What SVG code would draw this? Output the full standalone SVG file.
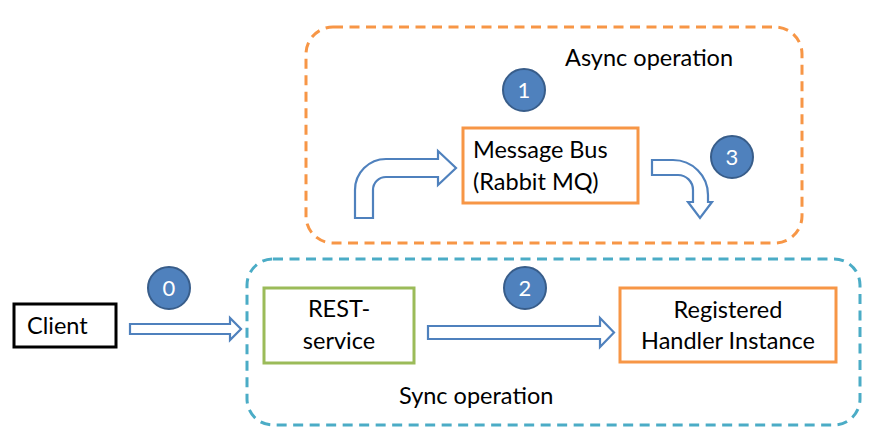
<svg xmlns="http://www.w3.org/2000/svg" width="891" height="443" viewBox="0 0 891 443">
<style>
text{font-family:Lato,"Open Sans","Liberation Sans",sans-serif;font-size:23.5px;fill:#000}
.c text{fill:#fff;font-size:22px;text-anchor:middle}
.num{fill:#4F81BD;stroke:#385D8A;stroke-width:2}
.arr{fill:#fff;stroke:#4F81BD;stroke-width:2.2;stroke-linejoin:miter}
.box{fill:#fff;stroke-width:3}
.mid{text-anchor:middle}
.grp{fill:none;stroke-width:3;stroke-dasharray:10,6.5}
</style>
<rect width="891" height="443" fill="#fff"/>
<g id="async-group">
<rect class="grp" x="306" y="27" width="496" height="216" rx="27" stroke="#F79646"/>
<text x="565" y="66">Async operation</text>
</g>
<g id="sync-group">
<rect class="grp" x="247" y="259" width="613" height="166" rx="26" stroke="#4BACC6"/>
<text x="399" y="404">Sync operation</text>
</g>
<g id="client">
<rect class="box" x="14" y="304" width="102" height="43" stroke="#000"/>
<text x="27" y="334">Client</text>
</g>
<g id="rest-service">
<rect class="box" x="264" y="288" width="150" height="75" stroke="#9BBB59"/>
<text class="mid" x="339" y="317">REST-</text>
<text class="mid" x="339" y="349">service</text>
</g>
<g id="handler">
<rect class="box" x="620" y="288" width="216" height="74" stroke="#F79646"/>
<text class="mid" x="728" y="318">Registered</text>
<text class="mid" x="728" y="349">Handler Instance</text>
</g>
<g id="message-bus">
<rect class="box" x="463" y="128" width="175" height="75" stroke="#F79646"/>
<text x="473" y="158">Message Bus</text>
<text x="473" y="190">(Rabbit MQ)</text>
</g>
<g id="connectors">
<path class="arr" d="M130,324 H230 V318 L241,329 L230,340 V334 H130 Z"/>
<path class="arr" d="M428,326 H600 V318 L614,332.5 L600,347 V339 H428 Z"/>
<path class="arr" d="M355,218 V190 A31,31 0 0 1 386,159 H438 V151 L456,168 L438,185 V177 H386 A13,13 0 0 0 373,190 V218 Z"/>
<path class="arr" d="M652,160 H673 A35,35 0 0 1 708,195 V202 H712 L700,218 L688,202 H693 V190 A15,15 0 0 0 678,175 H652 Z"/>
</g>
<g class="c" id="step-0"><circle class="num" cx="169" cy="288" r="21"/><text x="169" y="296">0</text></g>
<g class="c" id="step-1"><circle class="num" cx="524" cy="90" r="21"/><text x="524" y="98">1</text></g>
<g class="c" id="step-2"><circle class="num" cx="525" cy="288" r="21"/><text x="525" y="296">2</text></g>
<g class="c" id="step-3"><circle class="num" cx="732" cy="157" r="21"/><text x="732" y="165">3</text></g>
</svg>
